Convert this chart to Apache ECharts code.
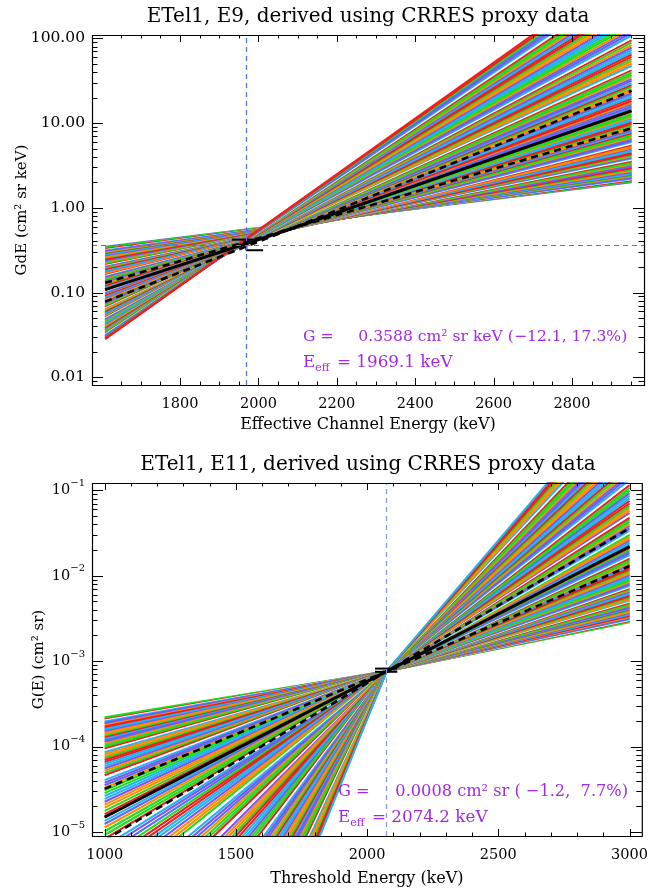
<!DOCTYPE html>
<html><head><meta charset="utf-8">
<script src="https://cdn.jsdelivr.net/npm/echarts@6.0.0/dist/echarts.min.js"></script>
<style>html,body{margin:0;padding:0;background:#fff;}#chart{width:651px;height:890px;}</style>
</head><body><div id="chart"></div>
<script>
// ---------------- text ----------------
const topTitle = 'ETel1, E9, derived using CRRES proxy data';
const botTitle = 'ETel1, E11, derived using CRRES proxy data';
const topXName = 'Effective Channel Energy (keV)';
const botXName = 'Threshold Energy (keV)';
const topYName = 'GdE (cm\u00b2 sr keV)';
const botYName = 'G(E) (cm\u00b2 sr)';

// ---------------- top panel data ----------------
const topEnergy = [1609, 2952];
const topLeft = [
0.347,0.340,0.334,0.326,0.318,0.312, 0.306,0.301,0.294,0.287,0.282,0.277,
0.270,0.265,0.259,0.252,0.248,0.243, 0.238,0.234,0.228,0.224,0.218,0.214,
0.210,0.205,0.201,0.198,0.193,0.189, 0.185,0.181,0.178,0.174,0.170,0.167,
0.163,0.160,0.157,0.153,0.150,0.147, 0.144,0.141,0.138,0.135,0.133,0.130,
0.127,0.124,0.122,0.119,0.117,0.114, 0.112,0.110,0.107,0.105,0.103,0.101,
0.0989,0.0968,0.0950,0.0929,0.0909,0.0891, 0.0871,0.0853,0.0836,0.0818,0.0801,0.0785,
0.0769,0.0753,0.0737,0.0722,0.0707,0.0692, 0.0678,0.0664,0.0650,0.0637,0.0623,0.0610,
0.0598,0.0585,0.0573,0.0561,0.0550,0.0538, 0.0527,0.0516,0.0505,0.0495,0.0485,0.0475,
0.0466,0.0456,0.0447,0.0437,0.0428,0.0419, 0.0410,0.0401,0.0393,0.0385,0.0377,0.0369,
0.0362,0.0354,0.0347,0.0340,0.0333,0.0326, 0.0319,0.0312,0.0306,0.0300,0.0294,0.0288,
0.0282];
const topRight = [
2.00,2.05,2.08,2.11,2.17,2.21, 2.25,2.31,2.35,2.40,2.47,2.51,
2.57,2.63,2.72,2.78,2.84,2.93, 3.00,3.08,3.19,3.27,3.36,3.48,
3.57,3.68,3.81,3.92,4.06,4.18, 4.32,4.46,4.64,4.79,4.98,5.13,
5.33,5.55,5.74,5.99,6.20,6.46, 6.70,6.97,7.29,7.58,7.92,8.23,
8.59,8.99,9.37,9.82,10.2,10.7, 11.2,11.8,12.3,12.8,13.6,14.2,
14.9,15.6,16.6,17.4,18.2,19.4, 20.3,21.5,22.5,23.9,25.0,26.6,
28.0,29.6,31.5,33.1,35.3,37.2, 39.5,42.1,44.5,47.5,50.2,53.6,
56.8,60.4,64.5,68.5,73.2,77.8, 83,89,95,101,108,116,
124,133,143,153,164,175, 188,202,218,234,252,271,
292,315,340,367,396,427, 461,499,540,585,633,685,
742];
const topMedE = [1609, 2050, 2952];
const topMedG = [0.108, 0.50, 14.0];
const topDashAG = [0.13, 0.51, 8.7];
const topDashBG = [0.078, 0.49, 24];
const topEffE = 1969.1, topEffG = 0.3588, topErr = [-12.1, 17.3];
const topBarHiE = [1932, 1992], topBarLoE = [1969, 2012];

// ---------------- bottom panel data ----------------
const botEnergy = [1000, 3000];
const botLeft = [
2.21e-4,2.14e-4,2.08e-4,2.02e-4,1.96e-4,1.90e-4, 1.85e-4,1.78e-4,1.72e-4,1.66e-4,1.61e-4,1.55e-4,
1.50e-4,1.44e-4,1.39e-4,1.33e-4,1.28e-4,1.23e-4, 1.18e-4,1.13e-4,1.08e-4,1.03e-4,9.86e-5,9.44e-5,
9.02e-5,8.57e-5,8.13e-5,7.73e-5,7.35e-5,6.97e-5, 6.62e-5,6.24e-5,5.87e-5,5.53e-5,5.22e-5,4.92e-5,
4.63e-5,4.33e-5,4.05e-5,3.78e-5,3.53e-5,3.30e-5, 3.08e-5,2.85e-5,2.64e-5,2.44e-5,2.26e-5,2.09e-5,
1.93e-5,1.77e-5,1.62e-5,1.48e-5,1.35e-5,1.24e-5, 1.13e-5,1.02e-5,9.23e-6,8.34e-6,7.53e-6,6.79e-6,
6.14e-6,5.46e-6,4.85e-6,4.33e-6,3.85e-6,3.42e-6, 3.04e-6,2.66e-6,2.33e-6,2.03e-6,1.78e-6,1.56e-6,
1.36e-6,1.17e-6,1.00e-6,8.59e-7,7.36e-7,6.32e-7, 5.42e-7,4.55e-7,3.81e-7,3.20e-7,2.69e-7,2.25e-7,
1.89e-7,1.54e-7,1.26e-7,1.03e-7,8.41e-8,6.89e-8, 5.62e-8,4.47e-8,3.55e-8,2.82e-8,2.24e-8,1.78e-8,
1.41e-8,1.08e-8,8.30e-9,6.37e-9,4.89e-9,3.75e-9, 2.88e-9,2.12e-9,1.57e-9,1.16e-9,8.57e-10,6.32e-10,
4.68e-10,3.30e-10,2.33e-10,1.65e-10,1.17e-10,8.24e-11, 5.82e-11,3.91e-11,2.63e-11,1.77e-11,1.19e-11,7.98e-12,
5.36e-12];
const botRight = [
2.85e-3,2.91e-3,2.97e-3,3.03e-3,3.09e-3,3.16e-3, 3.22e-3,3.29e-3,3.37e-3,3.44e-3,3.52e-3,3.59e-3,
3.67e-3,3.76e-3,3.85e-3,3.94e-3,4.05e-3,4.14e-3, 4.25e-3,4.36e-3,4.48e-3,4.59e-3,4.72e-3,4.84e-3,
4.98e-3,5.12e-3,5.27e-3,5.42e-3,5.58e-3,5.74e-3, 5.92e-3,6.10e-3,6.30e-3,6.49e-3,6.70e-3,6.90e-3,
7.13e-3,7.38e-3,7.64e-3,7.91e-3,8.18e-3,8.47e-3, 8.77e-3,9.10e-3,9.44e-3,9.82e-3,1.02e-2,1.06e-2,
1.10e-2,1.14e-2,1.19e-2,1.24e-2,1.29e-2,1.35e-2, 1.40e-2,1.47e-2,1.53e-2,1.60e-2,1.68e-2,1.75e-2,
1.84e-2,1.93e-2,2.02e-2,2.12e-2,2.23e-2,2.34e-2, 2.45e-2,2.59e-2,2.73e-2,2.88e-2,3.04e-2,3.21e-2,
3.38e-2,3.58e-2,3.80e-2,4.03e-2,4.27e-2,4.53e-2, 4.80e-2,5.11e-2,5.45e-2,5.79e-2,6.18e-2,6.58e-2,
7.01e-2,7.52e-2,8.05e-2,8.65e-2,9.27e-2,9.93e-2, 0.106,0.115,0.124,0.133,0.144,0.155,
0.167,0.182,0.198,0.215,0.233,0.254, 0.275,0.301,0.330,0.361,0.395,0.433,
0.473,0.522,0.575,0.635,0.701,0.773, 0.853,0.951,1.06,1.18,1.31,1.46,
1.63];
const botMedE = [1000, 2074.2, 3000];
const botMedG = [1.5e-5, 7.6e-4, 2.2e-2];
const botDashAG = [3.2e-5, 7.6e-4, 1.3e-2];
const botDashBG = [8.0e-6, 7.6e-4, 3.6e-2];
const botEffE = 2074.2, botEffG = 0.00076, botErr = [-1.2, 7.7];
const botBarE = [2030, 2115];

// ---------------- axes / ticks ----------------
const topXRange = [1575.5, 2983.7], topYRange = [0.0081, 109.4];
const botXRange = [951.8, 3046.7], botYRange = [8.98e-6, 0.1218];
const topXLabels = [1800, 2000, 2200, 2400, 2600, 2800];
const topXMinor = [1650,1700,1750,1850,1900,1950,2050,2100,2150,2250,2300,2350,2450,2500,2550,2650,2700,2750,2850,2900,2950];
const topYMajor = [0.01, 0.1, 1, 10, 100];
const topYMinor = [0.009,0.02,0.03,0.04,0.05,0.06,0.07,0.08,0.09,0.2,0.3,0.4,0.5,0.6,0.7,0.8,0.9,2,3,4,5,6,7,8,9,20,30,40,50,60,70,80,90];
const botXLabels = [1000, 1500, 2000, 2500, 3000];
const botXMinor = [1100,1200,1300,1400,1600,1700,1800,1900,2100,2200,2300,2400,2600,2700,2800,2900];
const botYMajor = [1e-5, 1e-4, 1e-3, 1e-2, 1e-1];
const botYMinor = [2e-5,3e-5,4e-5,5e-5,6e-5,7e-5,8e-5,9e-5,2e-4,3e-4,4e-4,5e-4,6e-4,7e-4,8e-4,9e-4,2e-3,3e-3,4e-3,5e-3,6e-3,7e-3,8e-3,9e-3,2e-2,3e-2,4e-2,5e-2,6e-2,7e-2,8e-2,9e-2];

// ---------------- styling ----------------
const FONT = 'DejaVu Serif';
const PURPLE = '#a228e6';
const palette = ['#f01e1e','#20dc20','#ff8c00','#7c55f2','#20b4f4','#f01e1e','#20dc20','#ff8c00','#7c55f2','#20b4f4','#f01e1e','#20dc20','#ff8c00','#5a6cf0','#20b4f4','#ffffff'];
function lineColor(i){ const h = Math.imul(i + 17, 0x9E3779B1) >>> 0; return palette[(h >>> 28) & 15]; }

const chart = echarts.init(document.getElementById('chart'), null, {renderer:'canvas'});
const series = [];

function refLines(gi, e, g, color){
  series.push({type:'line', xAxisIndex:gi, yAxisIndex:gi, data:[[e,g]], symbol:'none', z:1, silent:true, animation:false,
    markLine:{silent:true, symbol:'none', animation:false, label:{show:false},
      lineStyle:{color:color, width:1.2, type:[5,4]}, data:[{xAxis:e},{yAxis:g}]}});
}
refLines(0, topEffE, topEffG, '#4a72ea');
refLines(1, botEffE, botEffG, '#8494e6');

const LW = 2.1;
topLeft.forEach((v,i)=>{
  series.push({type:'line', xAxisIndex:0, yAxisIndex:0, symbol:'none', silent:true, animation:false, z:2,
    lineStyle:{color:lineColor(i), width:LW},
    data:[[topEnergy[0], v],[topEnergy[1], topRight[i]]]});
});
botLeft.forEach((v,i)=>{
  series.push({type:'line', xAxisIndex:1, yAxisIndex:1, symbol:'none', silent:true, animation:false, z:2,
    lineStyle:{color:lineColor(i+200), width:LW},
    data:[[botEnergy[0], v],[botEffE, botEffG],[botEnergy[1], botRight[i]]]});
});

function blackLine(gi, E, G, dashed, w){
  series.push({type:'line', xAxisIndex:gi, yAxisIndex:gi, symbol:'none', silent:true, animation:false, z:3,
    lineStyle:{color:'#000', width: w || (dashed?2.6:3), type: dashed?[7,5]:'solid'},
    data:E.map((e,i)=>[e, G[i]])});
}
blackLine(0, topMedE, topMedG, false);
blackLine(0, topMedE, topDashAG, true);
blackLine(0, topMedE, topDashBG, true);
blackLine(1, botMedE, botMedG, false);
blackLine(1, botMedE, botDashAG, true);
blackLine(1, botMedE, botDashBG, true);

// error bar marks
const tHi = topEffG*(1+topErr[1]/100), tLo = topEffG*(1+topErr[0]/100);
blackLine(0, topBarHiE, [tHi, tHi], false, 2);
blackLine(0, topBarLoE, [tLo, tLo], false, 2);
blackLine(0, [topEffE, topEffE], [tLo, tHi], false, 2);
const bHi = botEffG*(1+botErr[1]/100), bLo = botEffG*(1+botErr[0]/100);
blackLine(1, botBarE, [bHi, bHi], false, 2);
blackLine(1, botBarE, [bLo, bLo], false, 2);

// ticks + frame
function tickSeries(gi, xMaj, xMin, yMaj, yMin, xRef, yRef){
  const data = [];
  xMaj.forEach(v=>data.push([v, yRef, 0]));
  xMin.forEach(v=>data.push([v, yRef, 1]));
  yMaj.forEach(v=>data.push([xRef, v, 2]));
  yMin.forEach(v=>data.push([xRef, v, 3]));
  data.push([xRef, yRef, 4]);
  series.push({type:'custom', xAxisIndex:gi, yAxisIndex:gi, z:10, silent:true, animation:false, clip:false,
    renderItem(params, api){
      const cs = params.coordSys; const k = api.value(2);
      const p = api.coord([api.value(0), api.value(1)]);
      const st = {stroke:'#000', lineWidth:1};
      if (k <= 1){
        const L = k===0 ? 7 : 3.5; const x = Math.round(p[0])+0.5;
        const yb = cs.y+cs.height, yt = cs.y;
        return {type:'group', children:[
          {type:'line', shape:{x1:x,y1:yb,x2:x,y2:yb-L}, style:st},
          {type:'line', shape:{x1:x,y1:yt,x2:x,y2:yt+L}, style:st}]};
      }
      if (k <= 3){
        const L = k===2 ? 11 : 5.5; const y = Math.round(p[1])+0.5;
        const xl = cs.x, xr = cs.x+cs.width;
        return {type:'group', children:[
          {type:'line', shape:{x1:xl,y1:y,x2:xl+L,y2:y}, style:st},
          {type:'line', shape:{x1:xr,y1:y,x2:xr-L,y2:y}, style:st}]};
      }
      return {type:'rect', shape:{x:cs.x+0.5, y:cs.y+0.5, width:cs.width, height:cs.height}, style:{fill:'none', stroke:'#000', lineWidth:1.2}};
    },
    data});
}
tickSeries(0, topXLabels, topXMinor, topYMajor, topYMinor, 2000, 1);
tickSeries(1, botXLabels, botXMinor, botYMajor, botYMinor, 2000, 1e-3);

function near(v, list){ return list.some(t => Math.abs(t - v) <= Math.abs(t)*1e-6 + 1e-9); }
const lblStyle = {fontFamily:FONT, fontSize:14.5, color:'#000'};
const nameStyle = {fontFamily:FONT, fontSize:16, color:'#000'};
const fmt5 = x => x.toFixed(1).padStart(5,' ').replace('-', '\u2212');
const effRich = (size) => ({
  e:{fontFamily:FONT, fontSize:size, fill:PURPLE, lineHeight:22, verticalAlign:'middle'},
  s:{fontFamily:FONT, fontSize:11, fill:PURPLE, lineHeight:22, verticalAlign:'bottom', padding:[0,2,0,0]}
});

const option = {
  animation:false,
  backgroundColor:'#fff',
  textStyle:{fontFamily:FONT},
  grid:[
    {left:92, top:35, width:552, height:350, show:false},
    {left:92, top:483, width:552, height:353, show:false}
  ],
  xAxis:[
    {gridIndex:0, type:'value', min:topXRange[0], max:topXRange[1], splitNumber:7,
      axisLine:{show:false}, axisTick:{show:false}, splitLine:{show:false},
      axisLabel:Object.assign({customValues:topXLabels, margin:12, interval:0,
        formatter:v=> near(v, topXLabels) ? String(Math.round(v)) : ''}, lblStyle),
      name:topXName, nameLocation:'middle', nameGap:32, nameMoveOverlap:false, nameTextStyle:nameStyle},
    {gridIndex:1, type:'value', min:botXRange[0], max:botXRange[1], splitNumber:5,
      axisLine:{show:false}, axisTick:{show:false}, splitLine:{show:false},
      axisLabel:Object.assign({customValues:botXLabels, margin:12, interval:0,
        formatter:v=> near(v, botXLabels) ? String(Math.round(v)) : ''}, lblStyle),
      name:botXName, nameLocation:'middle', nameGap:35, nameMoveOverlap:false, nameTextStyle:nameStyle}
  ],
  yAxis:[
    {gridIndex:0, type:'log', logBase:10, min:topYRange[0], max:topYRange[1],
      axisLine:{show:false}, axisTick:{show:false}, splitLine:{show:false}, minorTick:{show:false},
      axisLabel:Object.assign({customValues:topYMajor, margin:7, interval:0,
        formatter:v=> near(v, topYMajor) ? v.toFixed(2) : ''}, lblStyle, {fontSize:15.5}),
      name:topYName, nameLocation:'middle', nameGap:62, nameMoveOverlap:false, nameRotate:90, nameTextStyle:Object.assign({}, nameStyle, {fontSize:15})},
    {gridIndex:1, type:'log', logBase:10, min:botYRange[0], max:botYRange[1],
      axisLine:{show:false}, axisTick:{show:false}, splitLine:{show:false}, minorTick:{show:false},
      axisLabel:{customValues:botYMajor, margin:7, interval:0,
        formatter:v=>{ if(!near(v, botYMajor)) return ''; const e=Math.round(Math.log10(v)); return '{b|10}{s|' + (e<0?'\u2212':'') + Math.abs(e) + '}'; },
        rich:{
          b:{fontFamily:FONT, fontSize:14.5, color:'#000', lineHeight:30, verticalAlign:'middle'},
          s:{fontFamily:FONT, fontSize:10, color:'#000', lineHeight:30, verticalAlign:'top', padding:[3,0,0,0]}
        }},
      name:botYName, nameLocation:'middle', nameGap:45, nameMoveOverlap:false, nameRotate:90, nameTextStyle:Object.assign({}, nameStyle, {fontSize:15})}
  ],
  graphic:[
    {type:'text', x:368, y:17, silent:true, style:{text:topTitle, align:'center', verticalAlign:'middle', font:'20px "DejaVu Serif"', fill:'#000'}},
    {type:'text', x:368, y:465, silent:true, style:{text:botTitle, align:'center', verticalAlign:'middle', font:'20px "DejaVu Serif"', fill:'#000'}},
    {type:'text', x:303, y:337, silent:true, z:20, style:{text:'G = ' + topEffG.toFixed(4).padStart(10,' ') + ' cm\u00b2 sr keV (' + fmt5(topErr[0]) + ',' + fmt5(topErr[1]) + '%)',
      verticalAlign:'middle', font:'15.6px "DejaVu Serif"', fill:PURPLE}},
    {type:'text', x:303, y:363, silent:true, z:20, style:{text:'{e|E}{s|eff}{e| = ' + topEffE.toFixed(1) + ' keV}', verticalAlign:'middle', rich:effRich(16.8)}},
    {type:'text', x:338, y:792, silent:true, z:20, style:{text:'G = ' + botEffG.toFixed(4).padStart(10,' ') + ' cm\u00b2 sr (' + fmt5(botErr[0]) + ',' + fmt5(botErr[1]) + '%)',
      verticalAlign:'middle', font:'16.2px "DejaVu Serif"', fill:PURPLE}},
    {type:'text', x:338, y:818, silent:true, z:20, style:{text:'{e|E}{s|eff}{e| = ' + botEffE.toFixed(1) + ' keV}', verticalAlign:'middle', rich:effRich(16.8)}}
  ],
  series
};
chart.setOption(option);
</script></body></html>
